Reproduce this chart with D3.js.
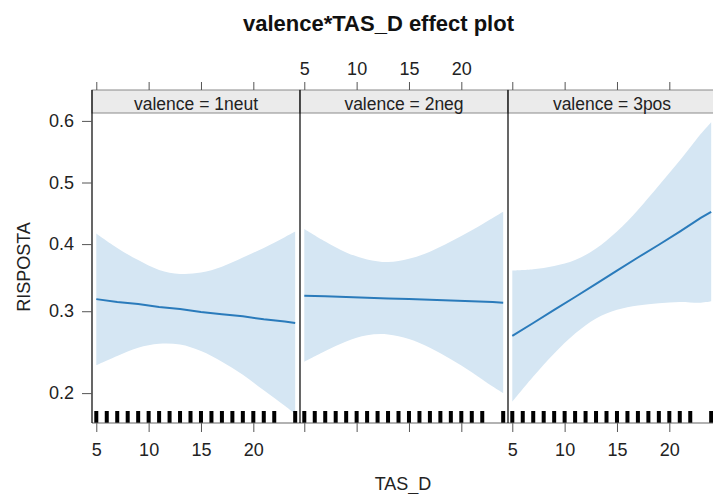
<!DOCTYPE html>
<html>
<head>
<meta charset="utf-8">
<script src="https://cdn.jsdelivr.net/npm/d3@7"></script>
<style>
  html, body { margin: 0; padding: 0; background: #fff; }
  svg { display: block; font-family: "Liberation Sans", Arial, sans-serif; }
</style>
</head>
<body>
<svg id="chart" width="713" height="494"></svg>
<script>
// ---------------- data ----------------
const panels = ["valence = 1neut", "valence = 2neg", "valence = 3pos"];
const tas = [5, 7, 9, 11, 13, 15, 17, 19, 21, 23, 24];

const fit1neut   = [0.317, 0.313, 0.310, 0.306, 0.303, 0.299, 0.296, 0.293, 0.289, 0.286, 0.284];
const lower1neut = [0.231, 0.242, 0.252, 0.257, 0.256, 0.248, 0.235, 0.220, 0.203, 0.187, 0.179];
const upper1neut = [0.417, 0.394, 0.375, 0.360, 0.354, 0.356, 0.365, 0.379, 0.394, 0.411, 0.420];

const fit2neg    = [0.322, 0.321, 0.320, 0.319, 0.318, 0.317, 0.316, 0.315, 0.314, 0.313, 0.312];
const lower2neg  = [0.235, 0.248, 0.260, 0.268, 0.269, 0.263, 0.252, 0.238, 0.223, 0.207, 0.200];
const upper2neg  = [0.424, 0.404, 0.387, 0.376, 0.372, 0.377, 0.388, 0.404, 0.422, 0.442, 0.452];

const fit3pos    = [0.267, 0.284, 0.302, 0.320, 0.339, 0.359, 0.379, 0.399, 0.420, 0.442, 0.452];
const lower3pos  = [0.191, 0.218, 0.245, 0.270, 0.290, 0.302, 0.308, 0.311, 0.313, 0.312, 0.314];
const upper3pos  = [0.359, 0.361, 0.366, 0.375, 0.393, 0.420, 0.455, 0.495, 0.536, 0.579, 0.598];

const rugTAS = [5, 6, 7, 8, 9, 10, 11, 12, 13, 14, 15, 16, 17, 18, 19, 20, 21, 22, 24];
const xTicks = [5, 10, 15, 20];
const yTicks = [0.2, 0.3, 0.4, 0.5, 0.6];
const yTickLabels = ["0.2", "0.3", "0.4", "0.5", "0.6"];

const series = [
  { fit: fit1neut, lower: lower1neut, upper: upper1neut },
  { fit: fit2neg,  lower: lower2neg,  upper: upper2neg },
  { fit: fit3pos,  lower: lower3pos,  upper: upper3pos }
];

// ---------------- layout ----------------
const svg = d3.select("#chart");
const panelTop = 113, panelBottom = 423, stripTop = 90;
const panelLeft0 = 92, panelW = 208;
const lineColor = "#2a7bbb", bandColor = "#d5e6f3";
const axisColor = "#555", textColor = "#222";

const logit = p => Math.log(p / (1 - p));
const yLin = d3.scaleLinear().domain([-1.583, 0.4575]).range([panelBottom, panelTop]);
const yPos = p => yLin(logit(p));

svg.append("defs").append("clipPath").attr("id", "clipAll")
  .append("rect").attr("x", 0).attr("y", panelTop).attr("width", 713).attr("height", panelBottom - panelTop);

// title
svg.append("text").attr("x", 378.5).attr("y", 31).attr("text-anchor", "middle")
  .attr("font-size", 22).attr("font-weight", "bold").attr("fill", "#111")
  .text("valence*TAS_D effect plot");

panels.forEach((label, i) => {
  const x0 = panelLeft0 + i * panelW;
  const x = d3.scaleLinear().domain([4.59, 24.46]).range([x0, x0 + panelW]);
  const s = series[i];
  const pts = tas.map((t, j) => ({ t, f: s.fit[j], lo: s.lower[j], up: s.upper[j] }));
  const g = svg.append("g").attr("clip-path", "url(#clipAll)");

  // band
  g.append("path").datum(pts)
    .attr("d", d3.area().x(d => x(d.t)).y0(d => yPos(d.lo)).y1(d => yPos(d.up)).curve(d3.curveCatmullRom))
    .attr("fill", bandColor);
  // fit line
  g.append("path").datum(pts)
    .attr("d", d3.line().x(d => x(d.t)).y(d => yPos(d.f)))
    .attr("fill", "none").attr("stroke", lineColor).attr("stroke-width", 2);

  // rug
  svg.append("g").selectAll("rect").data(rugTAS).join("rect")
    .attr("x", d => x(d) - 2).attr("y", panelBottom - 12)
    .attr("width", 4).attr("height", 12).attr("fill", "#000");

  // strip
  svg.append("rect").attr("x", x0).attr("y", stripTop).attr("width", panelW).attr("height", panelTop - stripTop)
    .attr("fill", "#ebebeb").attr("stroke", "#8a8a8a").attr("stroke-width", 1);
  svg.append("text").attr("x", x0 + panelW / 2).attr("y", 110).attr("text-anchor", "middle")
    .attr("font-size", 17.5).attr("fill", textColor).text(label);

  // top axis (ticks for all, labels for middle panel)
  const top = svg.append("g").attr("transform", `translate(0,${stripTop})`)
    .call(d3.axisTop(x).tickValues(xTicks).tickSize(8).tickPadding(7)
      .tickFormat(i === 1 ? d3.format("d") : () => ""));
  // bottom axis (labels for outer panels)
  const bot = svg.append("g").attr("transform", `translate(0,${panelBottom})`)
    .call(d3.axisBottom(x).tickValues(xTicks).tickSize(9).tickPadding(11)
      .tickFormat(i !== 1 ? d3.format("d") : () => ""));
  [top, bot].forEach(a => {
    a.select(".domain").remove();
    a.selectAll("line").attr("stroke", axisColor);
    a.selectAll("text").attr("font-size", 18).attr("fill", textColor)
      .attr("font-family", "'Liberation Sans', Arial, sans-serif");
  });

  // panel borders
  svg.append("line").attr("x1", x0).attr("x2", x0 + panelW).attr("y1", panelBottom).attr("y2", panelBottom)
    .attr("stroke", "#666").attr("stroke-width", 1.2);
  svg.append("line").attr("x1", x0).attr("x2", x0).attr("y1", stripTop).attr("y2", panelBottom)
    .attr("stroke", "#000").attr("stroke-width", 1.2);
});

// y axis
const yAxis = svg.append("g").attr("transform", `translate(${panelLeft0},0)`)
  .call(d3.axisLeft(yLin).tickValues(yTicks.map(logit)).tickSize(10).tickPadding(8)
    .tickFormat((d, i) => yTickLabels[i]));
yAxis.select(".domain").remove();
yAxis.selectAll("line").attr("stroke", axisColor);
yAxis.selectAll("text").attr("font-size", 18).attr("fill", textColor)
  .attr("font-family", "'Liberation Sans', Arial, sans-serif");

// axis titles
svg.append("text").attr("transform", "translate(30,267) rotate(-90)").attr("text-anchor", "middle")
  .attr("font-size", 18).attr("fill", textColor).text("RISPOSTA");
svg.append("text").attr("x", 403).attr("y", 490).attr("text-anchor", "middle")
  .attr("font-size", 18).attr("fill", textColor).text("TAS_D");
</script>
</body>
</html>
